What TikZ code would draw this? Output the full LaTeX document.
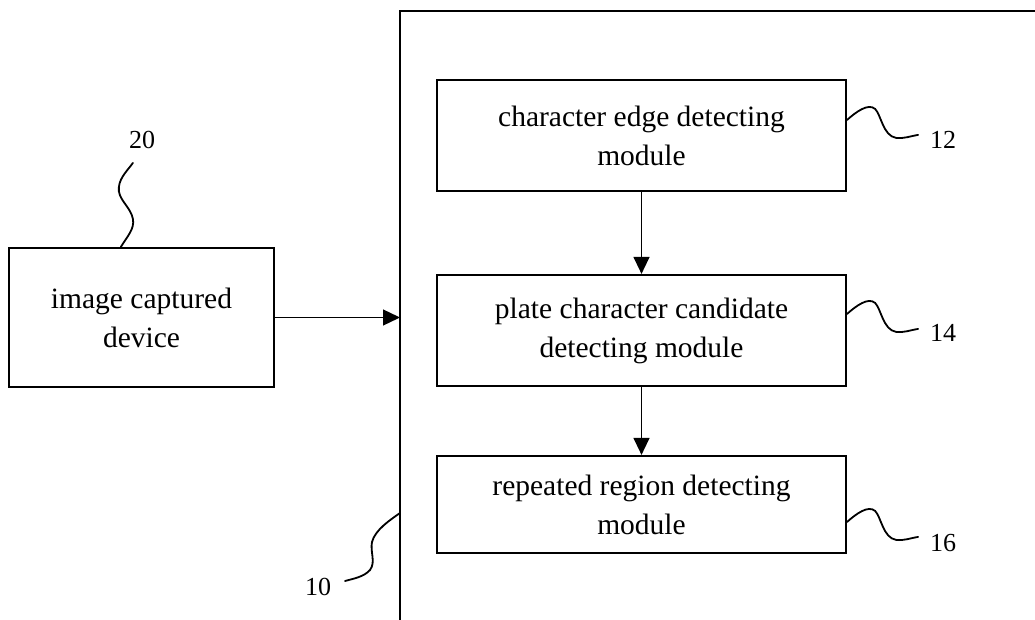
\documentclass[tikz,border=0pt]{standalone}
\usepackage{fontspec}
\setmainfont{Liberation Serif}
\usetikzlibrary{arrows.meta,calc}

\tikzset{
  module/.style={draw, line width=2.2pt, inner sep=0pt, align=center,
    font=\fontsize{29.5}{39}\selectfont},
  refnum/.style={font=\fontsize{26}{30}\selectfont, anchor=base, inner sep=0pt},
  frameline/.style={line width=2pt},
  leadline/.style={line width=1.8pt, line cap=round},
  arr/.style={line width=1.3pt, -{Triangle[length=17pt,width=16pt]}},
  curl/.pic={\draw[leadline] (0,0) .. controls (9,-8) and (21,-17) .. (28,-11)
      .. controls (34,-5) and (36,16) .. (49,18)
      .. controls (57,19) and (64,16) .. (71,15);}
}

\begin{document}
\begin{tikzpicture}[x=1pt,y=-1pt]
  \useasboundingbox (0,0) rectangle (1035,620);

  % open frame of the recognition unit
  \coordinate (fTL) at (400,11);
  \coordinate (fTR) at (1035,11);
  \coordinate (fBL) at (400,620);
  \draw[frameline] (fTR) -- (fTL) -- (fBL);

  % modules inside the unit
  \node[module, minimum width=409pt, minimum height=111pt] (m12) at (641.5,135.5)
    {character edge detecting\\module};
  \node[module, minimum width=409pt, minimum height=111pt] (m14) at (641.5,330.5)
    {plate character candidate\\detecting module};
  \node[module, minimum width=409pt, minimum height=97pt] (m16) at (641.5,504.5)
    {repeated region detecting\\module};

  % capture device
  \node[module, minimum width=265pt, minimum height=139pt] (dev20) at (141.5,317.5)
    {image captured\\device};

  % data flow
  \draw[arr] (dev20.east) -- (dev20.east -| fTL);
  \draw[arr] (m12.south) -- (m14.north);
  \draw[arr] (m14.south) -- (m16.north);

  % reference numerals with their leaders
  \coordinate (s12) at ($(m12.north east)+(0,41)$);
  \coordinate (s14) at ($(m14.north east)+(0,40)$);
  \coordinate (s16) at ($(m16.north east)+(0,67)$);
  \pic at (s12) {curl};
  \pic at (s14) {curl};
  \pic at (s16) {curl};
  \node[refnum] (n12) at ($(s12)+(96,29)$) {12};
  \node[refnum] (n14) at ($(s14)+(96,28)$) {14};
  \node[refnum] (n16) at ($(s16)+(96,30)$) {16};

  \coordinate (s20) at ($(dev20.north west)+(113,0)$);
  \draw[leadline, shift={(s20)}] (0,0) .. controls (6,-10) and (14,-18) .. (12,-28)
    .. controls (10,-40) and (-4,-48) .. (-2,-60)
    .. controls (-1,-70) and (8,-78) .. (12,-84);
  \node[refnum] (n20) at (142,149) {20};

  \coordinate (s10) at (fTL |- 0,513);
  \draw[leadline, shift={(s10)}] (0,0) .. controls (-10,7) and (-25,17) .. (-28,29)
    .. controls (-30,39) and (-24,49) .. (-30,57)
    .. controls (-36,64) and (-48,66) .. (-55,68);
  \node[refnum] (n10) at (318,595) {10};
\end{tikzpicture}
\end{document}
